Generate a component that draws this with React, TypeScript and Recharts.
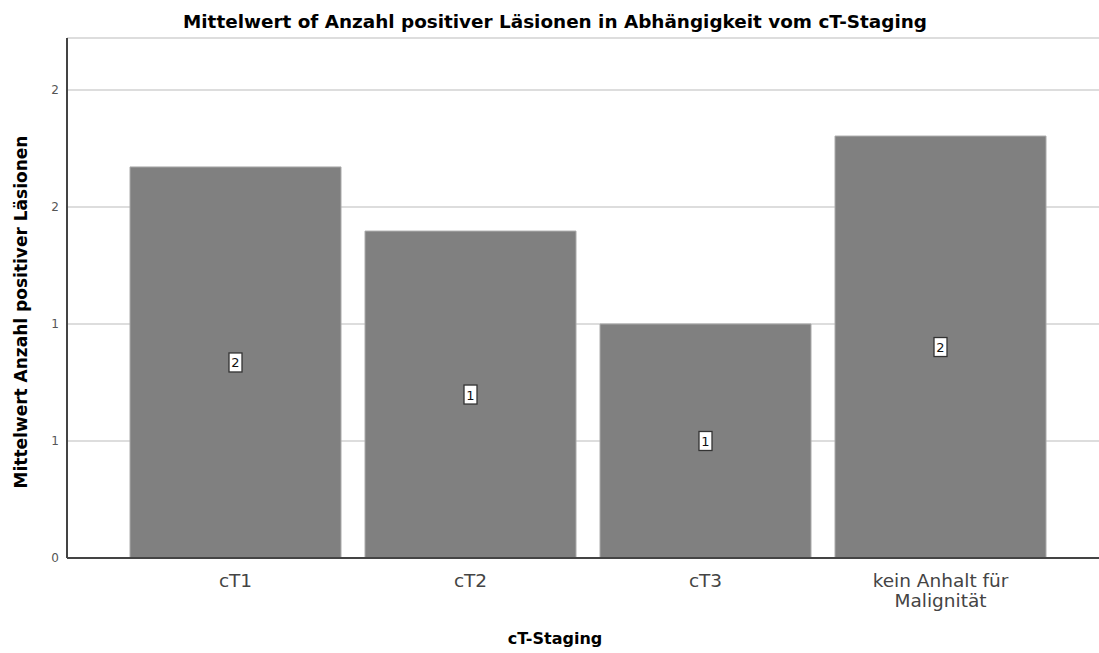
import React from "react";
import { BarChart, Bar, XAxis, YAxis, CartesianGrid, LabelList, Label, ReferenceLine } from "recharts";

const categories = ["cT1", "cT2", "cT3", "kein Anhalt für Malignität"];
const meanValues = [1.671, 1.397, 1.0, 1.803];
const yTicks = [0, 0.5, 1, 1.5, 2];
const title = "Mittelwert of Anzahl positiver Läsionen in Abhängigkeit vom cT-Staging";
const yTitle = "Mittelwert Anzahl positiver Läsionen";
const xTitle = "cT-Staging";

const data = categories.map((c, i) => ({ name: c, value: meanValues[i] }));

const FONT = "'DejaVu Sans', sans-serif";

const XTick = (props: any) => {
  const { x, y, payload } = props;
  const v: string = payload.value;
  const lines = v === "kein Anhalt für Malignität" ? ["kein Anhalt für", "Malignität"] : [v];
  return (
    <g>
      {lines.map((l, i) => (
        <text key={i} x={x} y={y + 21 + i * 20} textAnchor="middle" fontSize={18.5} fill="#444" fontFamily={FONT}>
          {l}
        </text>
      ))}
    </g>
  );
};

const ValueLabel = (props: any) => {
  const { x, y, width, height, value } = props;
  const cx = x + width / 2;
  const cy = y + height / 2;
  return (
    <g>
      <rect x={cx - 6.5} y={cy - 9.5} width={13} height={19} fill="#fff" stroke="#333" strokeWidth={1.3} />
      <text x={cx} y={cy + 5} textAnchor="middle" fontSize={13} fill="#111" fontFamily={FONT}>
        {Math.round(value)}
      </text>
    </g>
  );
};

export default function App() {
  return (
    <div style={{ position: "absolute", left: 0, top: 0, width: 1099, height: 653, background: "#fff" }}>
      <BarChart
        width={1099}
        height={653}
        data={data}
        margin={{ top: 38, right: 0, bottom: 0, left: 0 }}
        barSize={211}
      >
        <text x={555} y={28} textAnchor="middle" fontSize={18.4} fontWeight="bold" fill="#000" fontFamily={FONT}>
          {title}
        </text>
        <CartesianGrid horizontal vertical={false} stroke="#d2d2d2" strokeWidth={1.5} />
        <XAxis
          dataKey="name"
          height={95}
          padding={{ left: 51, right: 41 }}
          tick={<XTick />}
          tickLine={false}
          axisLine={{ stroke: "#444", strokeWidth: 2 }}
          interval={0}
        >
          <Label
            content={() => (
              <text x={555} y={644} textAnchor="middle" fontSize={16} fontWeight="bold" fill="#000" fontFamily={FONT}>
                {xTitle}
              </text>
            )}
          />
        </XAxis>
        <XAxis
          xAxisId="top"
          orientation="top"
          dataKey="name"
          height={0}
          tick={false}
          tickLine={false}
          axisLine={{ stroke: "#777", strokeWidth: 2 }}
        />
        <YAxis
          width={67}
          domain={[0, 2.222]}
          ticks={yTicks}
          tickFormatter={(v: number) => String(Math.round(v))}
          tick={{ fontSize: 12, fill: "#555", fontFamily: FONT }}
          tickLine={false}
          axisLine={{ stroke: "#444", strokeWidth: 2 }}
          allowDataOverflow
        >
          <Label
            content={() => (
              <text
                x={27}
                y={312}
                transform="rotate(-90 27 312)"
                textAnchor="middle"
                fontSize={17}
                fontWeight="bold"
                fill="#000"
                fontFamily={FONT}
              >
                {yTitle}
              </text>
            )}
          />
        </YAxis>
        <Bar dataKey="value" fill="#808080" stroke="#aaaaaa" strokeWidth={1} isAnimationActive={false}>
          <LabelList dataKey="value" content={<ValueLabel />} />
        </Bar>
        <ReferenceLine y={0} stroke="#444" strokeWidth={2} />
      </BarChart>
    </div>
  );
}
